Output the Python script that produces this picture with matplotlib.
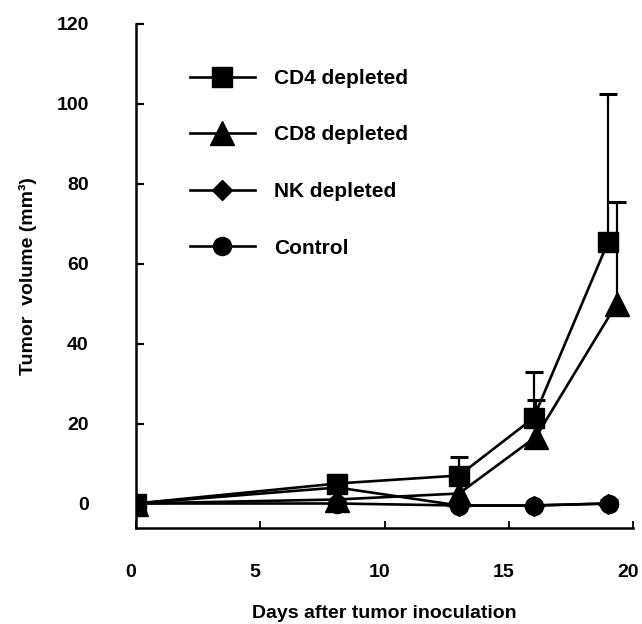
import numpy as np
import matplotlib
matplotlib.use("Agg")
import matplotlib.pyplot as plt
from matplotlib.transforms import ScaledTranslation

plt.rcParams['font.family'] = ['Liberation Sans', 'DejaVu Sans']
plt.rcParams['font.weight'] = 'bold'

# Data (days, tumour volume mm3, upper SEM)
days_cd4 = [0, 8.1, 13, 16, 19]
vol_cd4 = [0, 5, 7, 21.4, 65.4]
err_cd4 = [0, 0, 4.7, 11.6, 37]

days_cd8 = [0, 8.1, 13, 16.1, 19.35]
vol_cd8 = [0, 1, 2.5, 16.7, 50]
err_cd8 = [0, 0, 0, 9.2, 25.5]

days_nk = [0, 8.1, 13, 16, 19]
vol_nk = [0, 4, -0.5, -0.5, 0]

days_ctrl = [0, 8.1, 13, 16, 19.05]
vol_ctrl = [0, 0, -0.5, -0.5, 0]
err_ctrl = [0, 0, 0, 0, 0.8]

labels = ['CD4 depleted', 'CD8 depleted', 'NK depleted', 'Control']

fig = plt.figure(figsize=(6.42, 6.24), dpi=100)
ax = fig.add_axes([136 / 642, (624 - 527.5) / 624, 497 / 642, 504 / 624])

lw = 1.9
series = [
    (days_cd4, vol_cd4, err_cd4, 's', 14.5),
    (days_cd8, vol_cd8, err_cd8, '^', 17),
    (days_nk, vol_nk, None, 'D', 10),
    (days_ctrl, vol_ctrl, err_ctrl, 'o', 13),
]

handles = []
for (x, y, err, mk, ms), lab in zip(series, labels):
    x = np.array(x)
    y = np.array(y)
    if err is not None:
        err = np.array(err)
        m = err > 0
        ax.errorbar(x[m], y[m], yerr=[np.zeros(m.sum()), err[m]], fmt='none',
                    ecolor='black', elinewidth=1.6, capsize=0, zorder=2)
        ax.plot(x[m], (y + err)[m], ls='none', marker='_', markersize=13,
                markeredgewidth=2.2, color='black', zorder=2)
    h, = ax.plot(x, y, color='black', lw=lw, marker=mk, markersize=ms,
                 markerfacecolor='black', markeredgecolor='black', zorder=3,
                 label=lab)
    handles.append(h)

ax.set_xlim(0, 20)
ax.set_ylim(-6, 120)
ax.set_xticks([0, 5, 10, 15, 20])
ax.set_yticks([0, 20, 40, 60, 80, 100, 120])

for s in ['top', 'right']:
    ax.spines[s].set_visible(False)
for s in ['left', 'bottom']:
    ax.spines[s].set_linewidth(1.8)

ax.tick_params(axis='y', direction='in', length=6, width=1.6, pad=34, labelsize=14)
ax.tick_params(axis='x', direction='in', length=5, width=1.3, pad=26, labelsize=14)
shift = ScaledTranslation(-5 / 100, 0, fig.dpi_scale_trans)
for t in ax.get_xticklabels():
    t.set_transform(t.get_transform() + shift)
for t in ax.get_xticklabels() + ax.get_yticklabels():
    t.set_fontweight('bold')

fig.text(28 / 642, 1 - 276 / 624, 'Tumor  volume (mm³)', rotation=90,
         ha='center', va='center', fontsize=14, fontweight='bold')
fig.text(384.5 / 642, 1 - 613 / 624, 'Days after tumor inoculation',
         ha='center', va='center', fontsize=14, fontweight='bold')

ax.legend(handles=handles, loc='upper left',
          bbox_to_anchor=(190 / 642, 1 - 69 / 624), bbox_transform=fig.transFigure,
          frameon=False, borderpad=0, borderaxespad=0, handlelength=3.1,
          handletextpad=0.95, labelspacing=1.8, numpoints=1,
          prop={'weight': 'bold', 'size': 15})

fig.savefig('out.png', dpi=100)
